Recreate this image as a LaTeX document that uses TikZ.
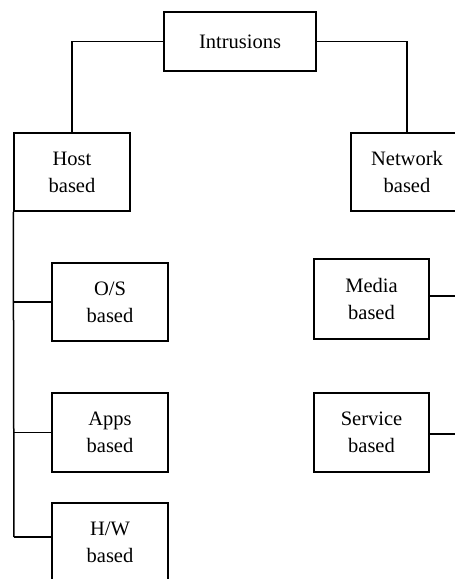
\documentclass[tikz,border=0pt]{standalone}
\usepackage{fontspec}
\setmainfont{Liberation Serif}
\begin{document}
\begin{tikzpicture}[x=1pt,y=-1pt,
  box/.style={draw,line width=1.5pt,inner sep=0pt,align=center,
    font=\fontsize{20.5}{27}\selectfont},
  wire/.style={line width=1.5pt}]
\useasboundingbox (0,0) rectangle (455,579);
\clip (0,0) rectangle (455,579);
% top level
\node[box,minimum width=152pt,minimum height=59pt] (intr) at (240,41.5) {Intrusions};
% second level
\node[box,minimum width=116pt,minimum height=78pt] (host) at (72,172) {Host\\based};
\node[box,minimum width=112pt,minimum height=78pt] (net) at (407,172) {Network\\based};
% host-based branches
\node[box,minimum width=116pt,minimum height=78pt] (os) at (110,302) {O/S\\based};
\node[box,minimum width=116pt,minimum height=79pt] (apps) at (110,432.5) {Apps\\based};
\node[box,minimum width=116pt,minimum height=78pt] (hw) at (110,542) {H/W\\based};
% network-based branches
\node[box,minimum width=115pt,minimum height=80pt] (media) at (371.5,299) {Media\\based};
\node[box,minimum width=115pt,minimum height=79pt] (serv) at (371.5,432.5) {Service\\based};
% connector end points
\coordinate (hwjoin) at (52,537);
\coordinate (rail) at (14,537);
\coordinate (rightedge) at (460,0);
% connectors
\draw[wire] (intr.west) -| (host.north);
\draw[wire] (intr.east) -| (net.north);
\draw[wire] (host.south west) -- (rail);
\draw[wire] (os.west) -- (os.west -| rail);
\draw[wire] (apps.west) -- (apps.west -| rail);
\draw[wire] (hwjoin) -- (rail);
\draw[wire] ([yshift=3pt]media.east) -- ([yshift=3pt]media.east -| rightedge);
\draw[wire] ([yshift=-1.5pt]serv.east) -- ([yshift=-1.5pt]serv.east -| rightedge);
\end{tikzpicture}
\end{document}
